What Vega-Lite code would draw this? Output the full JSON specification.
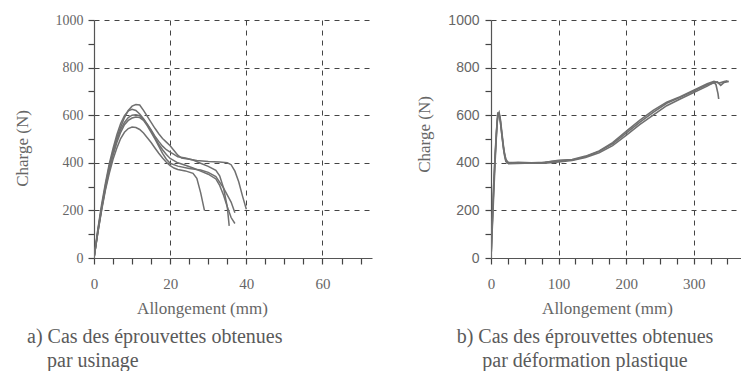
{
  "$schema": "https://vega.github.io/schema/vega-lite/v6.json",
  "background": "white",
  "padding": {"left": 13, "top": 13, "right": 0, "bottom": 0},
  "autosize": {"type": "pad"},
  "spacing": 43,
  "config": {
    "view": {"stroke": null},
    "font": "Liberation Serif",
    "axis": {
      "domainColor": "#555555",
      "domainWidth": 1.2,
      "tickColor": "#444444",
      "tickSize": 6,
      "tickWidth": 1.2,
      "grid": true,
      "gridColor": "#444444",
      "gridDash": [5, 5],
      "gridWidth": 1,
      "labelColor": "#666666",
      "labelFont": "Liberation Sans Narrow",
      "labelFontSize": 14,
      "labelOverlap": false,
      "labelFlush": false,
      "titleColor": "#666666",
      "titleFont": "Liberation Serif",
      "titleFontSize": 17,
      "titleFontWeight": "normal"
    },
    "title": {"font": "Liberation Serif", "fontSize": 20, "fontWeight": "normal", "color": "#5a5a5a"}
  },
  "datasets": {
    "a": [
      {"c":"C1","x":0,"y":0},{"c":"C1","x":1,"y":115},{"c":"C1","x":2,"y":215},{"c":"C1","x":3,"y":305},{"c":"C1","x":4,"y":385},{"c":"C1","x":5,"y":450},{"c":"C1","x":6,"y":505},{"c":"C1","x":7,"y":550},{"c":"C1","x":8,"y":590},{"c":"C1","x":9,"y":620},{"c":"C1","x":10,"y":638},{"c":"C1","x":11,"y":645},{"c":"C1","x":12,"y":643},{"c":"C1","x":13,"y":620},{"c":"C1","x":14,"y":595},{"c":"C1","x":15,"y":570},{"c":"C1","x":16,"y":545},{"c":"C1","x":17,"y":522},{"c":"C1","x":18,"y":502},{"c":"C1","x":19,"y":487},{"c":"C1","x":20,"y":472},{"c":"C1","x":21,"y":452},{"c":"C1","x":22,"y":432},{"c":"C1","x":23,"y":420},{"c":"C1","x":25,"y":415},{"c":"C1","x":27,"y":410},{"c":"C1","x":30,"y":405},{"c":"C1","x":33,"y":403},{"c":"C1","x":35,"y":400},{"c":"C1","x":36,"y":392},{"c":"C1","x":37,"y":365},{"c":"C1","x":38,"y":320},{"c":"C1","x":39,"y":260},{"c":"C1","x":40,"y":205},
      {"c":"C2","x":0,"y":0},{"c":"C2","x":1,"y":120},{"c":"C2","x":2,"y":225},{"c":"C2","x":3,"y":315},{"c":"C2","x":4,"y":395},{"c":"C2","x":5,"y":460},{"c":"C2","x":6,"y":518},{"c":"C2","x":7,"y":565},{"c":"C2","x":8,"y":598},{"c":"C2","x":9,"y":618},{"c":"C2","x":10,"y":625},{"c":"C2","x":11,"y":620},{"c":"C2","x":12,"y":605},{"c":"C2","x":13,"y":585},{"c":"C2","x":14,"y":562},{"c":"C2","x":15,"y":538},{"c":"C2","x":16,"y":512},{"c":"C2","x":17,"y":490},{"c":"C2","x":18,"y":470},{"c":"C2","x":19,"y":455},{"c":"C2","x":20,"y":445},{"c":"C2","x":21,"y":435},{"c":"C2","x":22,"y":425},{"c":"C2","x":24,"y":420},{"c":"C2","x":26,"y":412},{"c":"C2","x":28,"y":398},{"c":"C2","x":30,"y":385},{"c":"C2","x":32,"y":368},{"c":"C2","x":33,"y":345},{"c":"C2","x":34,"y":295},{"c":"C2","x":35,"y":215},{"c":"C2","x":35.5,"y":135},
      {"c":"C3","x":0,"y":0},{"c":"C3","x":1,"y":110},{"c":"C3","x":2,"y":210},{"c":"C3","x":3,"y":298},{"c":"C3","x":4,"y":375},{"c":"C3","x":5,"y":440},{"c":"C3","x":6,"y":495},{"c":"C3","x":7,"y":540},{"c":"C3","x":8,"y":570},{"c":"C3","x":9,"y":590},{"c":"C3","x":10,"y":600},{"c":"C3","x":11,"y":602},{"c":"C3","x":12,"y":598},{"c":"C3","x":13,"y":582},{"c":"C3","x":14,"y":560},{"c":"C3","x":15,"y":535},{"c":"C3","x":16,"y":505},{"c":"C3","x":17,"y":478},{"c":"C3","x":18,"y":455},{"c":"C3","x":19,"y":435},{"c":"C3","x":20,"y":418},{"c":"C3","x":22,"y":400},{"c":"C3","x":24,"y":390},{"c":"C3","x":26,"y":378},{"c":"C3","x":28,"y":365},{"c":"C3","x":30,"y":352},{"c":"C3","x":32,"y":332},{"c":"C3","x":33,"y":305},{"c":"C3","x":34,"y":265},{"c":"C3","x":35,"y":215},{"c":"C3","x":36,"y":170},{"c":"C3","x":37,"y":145},
      {"c":"C4","x":0,"y":0},{"c":"C4","x":1,"y":105},{"c":"C4","x":2,"y":205},{"c":"C4","x":3,"y":292},{"c":"C4","x":4,"y":368},{"c":"C4","x":5,"y":432},{"c":"C4","x":6,"y":485},{"c":"C4","x":7,"y":528},{"c":"C4","x":8,"y":560},{"c":"C4","x":9,"y":578},{"c":"C4","x":10,"y":588},{"c":"C4","x":11,"y":592},{"c":"C4","x":12,"y":590},{"c":"C4","x":13,"y":578},{"c":"C4","x":14,"y":555},{"c":"C4","x":15,"y":528},{"c":"C4","x":16,"y":500},{"c":"C4","x":17,"y":470},{"c":"C4","x":18,"y":440},{"c":"C4","x":19,"y":415},{"c":"C4","x":20,"y":398},{"c":"C4","x":22,"y":386},{"c":"C4","x":25,"y":376},{"c":"C4","x":28,"y":370},{"c":"C4","x":30,"y":360},{"c":"C4","x":32,"y":342},{"c":"C4","x":34,"y":295},{"c":"C4","x":36,"y":235},{"c":"C4","x":37,"y":190},
      {"c":"C5","x":0,"y":0},{"c":"C5","x":1,"y":105},{"c":"C5","x":2,"y":200},{"c":"C5","x":3,"y":285},{"c":"C5","x":4,"y":355},{"c":"C5","x":5,"y":415},{"c":"C5","x":6,"y":462},{"c":"C5","x":7,"y":502},{"c":"C5","x":8,"y":528},{"c":"C5","x":9,"y":544},{"c":"C5","x":10,"y":550},{"c":"C5","x":11,"y":548},{"c":"C5","x":12,"y":540},{"c":"C5","x":13,"y":525},{"c":"C5","x":14,"y":505},{"c":"C5","x":15,"y":485},{"c":"C5","x":16,"y":462},{"c":"C5","x":17,"y":440},{"c":"C5","x":18,"y":420},{"c":"C5","x":19,"y":402},{"c":"C5","x":20,"y":388},{"c":"C5","x":21,"y":378},{"c":"C5","x":22,"y":372},{"c":"C5","x":24,"y":366},{"c":"C5","x":26,"y":356},{"c":"C5","x":27,"y":335},{"c":"C5","x":28,"y":275},{"c":"C5","x":29,"y":200}
    ],
    "b": [
      {"c":"R1","x":0,"y":0},{"c":"R1","x":2,"y":150},{"c":"R1","x":4,"y":300},{"c":"R1","x":6,"y":420},{"c":"R1","x":8,"y":520},{"c":"R1","x":10,"y":600},{"c":"R1","x":12,"y":612},{"c":"R1","x":14,"y":580},{"c":"R1","x":16,"y":530},{"c":"R1","x":18,"y":480},{"c":"R1","x":20,"y":440},{"c":"R1","x":22,"y":410},{"c":"R1","x":25,"y":402},{"c":"R1","x":40,"y":400},{"c":"R1","x":60,"y":398},{"c":"R1","x":80,"y":398},{"c":"R1","x":100,"y":404},{"c":"R1","x":120,"y":410},{"c":"R1","x":140,"y":422},{"c":"R1","x":160,"y":442},{"c":"R1","x":180,"y":472},{"c":"R1","x":200,"y":515},{"c":"R1","x":220,"y":560},{"c":"R1","x":240,"y":600},{"c":"R1","x":260,"y":640},{"c":"R1","x":280,"y":668},{"c":"R1","x":300,"y":695},{"c":"R1","x":320,"y":722},{"c":"R1","x":330,"y":738},{"c":"R1","x":333,"y":728},{"c":"R1","x":336,"y":690},{"c":"R1","x":337,"y":668},
      {"c":"R2","x":0,"y":0},{"c":"R2","x":2,"y":160},{"c":"R2","x":4,"y":310},{"c":"R2","x":6,"y":430},{"c":"R2","x":8,"y":530},{"c":"R2","x":10,"y":608},{"c":"R2","x":12,"y":605},{"c":"R2","x":14,"y":570},{"c":"R2","x":16,"y":520},{"c":"R2","x":18,"y":470},{"c":"R2","x":20,"y":430},{"c":"R2","x":22,"y":405},{"c":"R2","x":25,"y":398},{"c":"R2","x":40,"y":402},{"c":"R2","x":60,"y":400},{"c":"R2","x":80,"y":402},{"c":"R2","x":100,"y":408},{"c":"R2","x":120,"y":412},{"c":"R2","x":140,"y":425},{"c":"R2","x":160,"y":448},{"c":"R2","x":180,"y":480},{"c":"R2","x":200,"y":525},{"c":"R2","x":220,"y":570},{"c":"R2","x":240,"y":612},{"c":"R2","x":260,"y":650},{"c":"R2","x":280,"y":675},{"c":"R2","x":300,"y":702},{"c":"R2","x":320,"y":728},{"c":"R2","x":335,"y":740},{"c":"R2","x":340,"y":725},{"c":"R2","x":345,"y":738},{"c":"R2","x":352,"y":742},
      {"c":"R3","x":0,"y":0},{"c":"R3","x":3,"y":200},{"c":"R3","x":6,"y":400},{"c":"R3","x":9,"y":570},{"c":"R3","x":11,"y":610},{"c":"R3","x":13,"y":595},{"c":"R3","x":16,"y":520},{"c":"R3","x":19,"y":450},{"c":"R3","x":22,"y":415},{"c":"R3","x":26,"y":396},{"c":"R3","x":50,"y":398},{"c":"R3","x":75,"y":400},{"c":"R3","x":100,"y":410},{"c":"R3","x":120,"y":414},{"c":"R3","x":140,"y":428},{"c":"R3","x":160,"y":450},{"c":"R3","x":180,"y":485},{"c":"R3","x":200,"y":532},{"c":"R3","x":220,"y":578},{"c":"R3","x":240,"y":620},{"c":"R3","x":260,"y":655},{"c":"R3","x":280,"y":678},{"c":"R3","x":300,"y":705},{"c":"R3","x":320,"y":732},{"c":"R3","x":330,"y":742},{"c":"R3","x":338,"y":735},{"c":"R3","x":345,"y":742},{"c":"R3","x":350,"y":745}
    ]
  },
  "hconcat": [
    {
      "width": 278,
      "height": 238,
      "data": {"name": "a"},
      "mark": {"type": "line", "strokeWidth": 1.5, "color": "#707070", "clip": true},
      "encoding": {
        "x": {
          "field": "x", "type": "quantitative",
          "scale": {"domain": [0, 73], "nice": false, "zero": false},
          "axis": {
            "values": [0,5,10,15,20,25,30,35,40,45,50,55,60,65,70],
            "format": "d",
            "labelExpr": "datum.value % 20 === 0 ? datum.label : ''",
            "labelPadding": 12,
            "labelFontSize": 15,
            "title": "Allongement (mm)",
            "titleX": 108, "titleY": 50, "titleAlign": "center", "titleBaseline": "middle",
            "gridOpacity": {"condition": {"test": "datum.value % 20 === 0 && datum.value > 0", "value": 1}, "value": 0}
          }
        },
        "y": {
          "field": "y", "type": "quantitative",
          "scale": {"domain": [0, 1000], "nice": false},
          "axis": {
            "values": [0,100,200,300,400,500,600,700,800,900,1000],
            "format": "d",
            "labelExpr": "datum.value % 200 === 0 ? datum.label : ''",
            "labelPadding": 5,
            "title": "Charge (N)",
            "titleX": -72, "titleY": 128, "titleAngle": -90, "titleAlign": "center", "titleBaseline": "middle",
            "gridOpacity": {"condition": {"test": "datum.value % 200 === 0 && datum.value > 0", "value": 1}, "value": 0}
          }
        },
        "detail": {"field": "c", "type": "nominal"}
      },
      "title": {
        "text": ["a) Cas des éprouvettes obtenues", "\u200b\u00a0\u00a0\u00a0\u00a0par usinage"],
        "orient": "bottom", "anchor": "start", "frame": "group",
        "dx": -67, "offset": 11, "lineHeight": 24
      }
    },
    {
      "width": 250,
      "height": 238,
      "data": {"name": "b"},
      "mark": {"type": "line", "strokeWidth": 1.6, "color": "#707070", "clip": true},
      "encoding": {
        "x": {
          "field": "x", "type": "quantitative",
          "scale": {"domain": [0, 370], "nice": false, "zero": false},
          "axis": {
            "values": [0,25,50,75,100,125,150,175,200,225,250,275,300,325,350],
            "format": "d",
            "labelExpr": "datum.value % 100 === 0 ? datum.label : ''",
            "labelPadding": 12,
            "labelFontSize": 15,
            "title": "Allongement (mm)",
            "titleX": 116, "titleY": 50, "titleAlign": "center", "titleBaseline": "middle",
            "gridOpacity": {"condition": {"test": "datum.value % 100 === 0 && datum.value > 0", "value": 1}, "value": 0}
          }
        },
        "y": {
          "field": "y", "type": "quantitative",
          "scale": {"domain": [0, 1000], "nice": false},
          "axis": {
            "values": [0,100,200,300,400,500,600,700,800,900,1000],
            "format": "d",
            "labelExpr": "datum.value % 200 === 0 ? datum.label : ''",
            "labelFont": "Liberation Sans",
            "labelPadding": 6,
            "title": "Charge (N)",
            "titleX": -67, "titleY": 114, "titleAngle": -90, "titleAlign": "center", "titleBaseline": "middle",
            "gridOpacity": {"condition": {"test": "datum.value % 200 === 0 && datum.value > 0", "value": 1}, "value": 0}
          }
        },
        "detail": {"field": "c", "type": "nominal"}
      },
      "title": {
        "text": ["b) Cas des éprouvettes obtenues", "par déformation plastique"],
        "orient": "bottom", "anchor": "middle", "frame": "group",
        "dx": -31, "offset": 11, "lineHeight": 24
      }
    }
  ]
}
